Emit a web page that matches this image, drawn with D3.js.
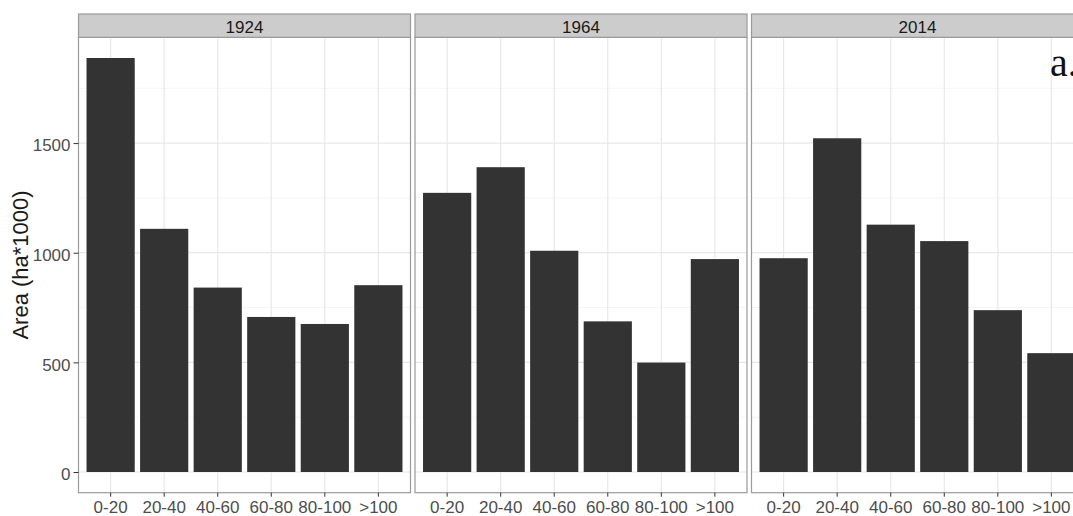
<!DOCTYPE html>
<head>
  <meta charset="utf-8">
  <script src="https://d3js.org/d3.v7.min.js"></script>
  <style>
    body { margin:0; background:#fff; overflow:hidden; }
    svg { font-family: "Liberation Sans", Arial, sans-serif; display:block; }
    .tick text { fill:#4d4d4d; font-size:17px; }
    .tick line { stroke:#333; }
  </style>
</head>
<body>
<svg width="1073" height="516"></svg>

<script>
  // values (ha*1000)
  var years    = ["1924", "1964", "2014"];
  var classes  = ["0-20", "20-40", "40-60", "60-80", "80-100", ">100"];
  var area1924 = [1888, 1109, 841, 707, 675, 852];
  var area1964 = [1273, 1390, 1009, 687, 499, 971];
  var area2014 = [975, 1522, 1128, 1053, 738, 542];
  var yTicks   = [0, 500, 1000, 1500];
  var yMinor   = [250, 750, 1250, 1750];

  var series = [area1924, area1964, area2014];

  var svg = d3.select("svg");

  var panelLeft = 78.5, panelW = 332, gap = 4.5;
  var stripTop = 14, panelTop = 37.3, panelBottom = 492.7;

  var ymax = d3.max(series, function(s) { return d3.max(s); });
  var y = d3.scaleLinear()
    .domain([-0.05 * ymax, ymax * 1.05])
    .range([panelBottom, panelTop]);

  var x = d3.scaleBand()
    .domain(classes)
    .range([0, panelW])
    .paddingInner(0.1)
    .paddingOuter(0.15);

  years.forEach(function(yr, i) {
    var g = svg.append("g")
      .attr("transform", "translate(" + (panelLeft + i * (panelW + gap)) + ",0)");

    g.append("rect")
      .attr("x", 0).attr("y", panelTop)
      .attr("width", panelW).attr("height", panelBottom - panelTop)
      .attr("fill", "#fff");

    // grid
    g.selectAll("line.minor").data(yMinor).enter().append("line")
      .attr("x1", 0).attr("x2", panelW)
      .attr("y1", function(d) { return y(d); })
      .attr("y2", function(d) { return y(d); })
      .attr("stroke", "#f4f4f4").attr("stroke-width", 1);
    g.selectAll("line.major").data(yTicks).enter().append("line")
      .attr("x1", 0).attr("x2", panelW)
      .attr("y1", function(d) { return y(d); })
      .attr("y2", function(d) { return y(d); })
      .attr("stroke", "#e8e8e8").attr("stroke-width", 1.2);
    g.selectAll("line.vert").data(classes).enter().append("line")
      .attr("x1", function(d) { return x(d) + x.bandwidth() / 2; })
      .attr("x2", function(d) { return x(d) + x.bandwidth() / 2; })
      .attr("y1", panelTop).attr("y2", panelBottom)
      .attr("stroke", "#e8e8e8").attr("stroke-width", 1.2);

    // bars
    g.selectAll("rect.bar").data(series[i]).enter().append("rect")
      .attr("class", "bar")
      .attr("x", function(d, j) { return x(classes[j]); })
      .attr("width", x.bandwidth())
      .attr("y", function(d) { return y(d); })
      .attr("height", function(d) { return y(0) - y(d); })
      .attr("fill", "#333333");

    // border
    g.append("rect")
      .attr("x", 0).attr("y", panelTop)
      .attr("width", panelW).attr("height", panelBottom - panelTop)
      .attr("fill", "none").attr("stroke", "#9a9a9a").attr("stroke-width", 1.2);

    // strip
    g.append("rect")
      .attr("x", 0).attr("y", stripTop)
      .attr("width", panelW).attr("height", panelTop - stripTop)
      .attr("fill", "#cccccc").attr("stroke", "#9a9a9a").attr("stroke-width", 1.2);
    g.append("text")
      .attr("x", panelW / 2).attr("y", 33)
      .attr("text-anchor", "middle")
      .attr("font-size", 17)
      .attr("fill", "#1a1a1a")
      .text(yr);

    // x axis
    var xa = g.append("g")
      .attr("transform", "translate(0," + panelBottom + ")")
      .call(d3.axisBottom(x).tickSize(4).tickSizeOuter(0).tickPadding(4));
    xa.select(".domain").remove();

    if (i === 0) {
      var ya = g.append("g")
        .call(d3.axisLeft(y).tickValues(yTicks).tickFormat(d3.format("d"))
          .tickSize(5).tickPadding(3));
      ya.select(".domain").remove();
      ya.selectAll("text").attr("dy", "0.45em");
    }
  });

  svg.append("text")
    .attr("transform", "translate(28," + (panelTop + panelBottom) / 2 + ") rotate(-90)")
    .attr("text-anchor", "middle")
    .attr("font-size", 22)
    .attr("fill", "#1a1a1a")
    .text("Area (ha*1000)");

  svg.append("text")
    .attr("x", 1050).attr("y", 76)
    .attr("font-family", "'Liberation Serif', 'Times New Roman', serif")
    .attr("font-size", 40)
    .attr("fill", "#111")
    .text("a.");
</script>
</body>
